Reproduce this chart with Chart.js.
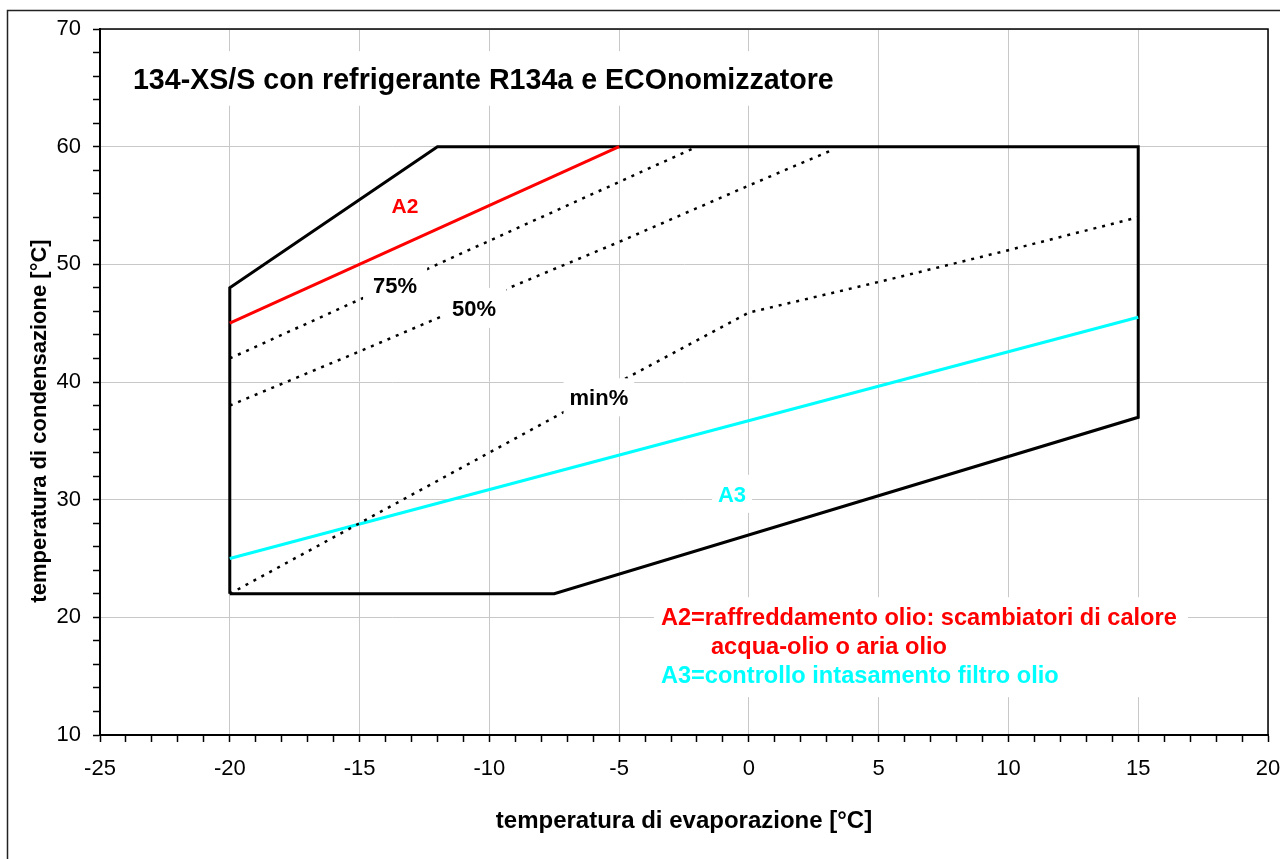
<!DOCTYPE html>
<html>
<head>
<meta charset="utf-8">
<title>134-XS/S con refrigerante R134a e ECOnomizzatore</title>
<script src="https://cdn.jsdelivr.net/npm/chart.js@4"></script>
<style>
  html, body { margin: 0; padding: 0; background: #fff; }
  #wrap { width: 1280px; height: 859px; position: relative; }
</style>
</head>
<body>
<div id="wrap"><canvas id="chart" width="1280" height="859"></canvas></div>
<script>
// operating envelope: evaporation temp (x) vs condensation temp (y), in °C
const envelopeX = [-20, -20, -12, 15, 15, -7.5, -20];
const envelopeY = [22, 48, 60, 60, 37, 22, 22];

// A2 = oil cooling limit, A3 = oil filter limit
const a2X = [-20, -5];
const a2Y = [45, 60];
const a3X = [-20, 15];
const a3Y = [25, 45.5];

// part load lines (dotted)
const load75X = [-20, -15, -10, -5, -2.2];
const load75Y = [42, 47, 52, 57, 59.8];
const load50X = [-20, -15, -10, -5, 0, 3.3];
const load50Y = [38, 42.6, 47.3, 51.9, 56.7, 59.8];
const loadMinX = [-20, -15, -10, -5, 0, 5, 10, 15];
const loadMinY = [22, 28, 34, 40, 45.9, 48.5, 51.2, 54];

const xTicks = [-25, -20, -15, -10, -5, 0, 5, 10, 15, 20];
const yTicks = [10, 20, 30, 40, 50, 60, 70];

const chartTitle = '134-XS/S con refrigerante R134a e ECOnomizzatore';
const xTitle = 'temperatura di evaporazione [°C]';
const yTitle = 'temperatura di condensazione [°C]';
const noteLines = [
  'A2=raffreddamento olio: scambiatori di calore',
  'acqua-olio o aria olio',
  'A3=controllo intasamento filtro olio'
];

const FONT = '"Liberation Sans", Arial, sans-serif';

const pts = (xs, ys) => xs.map((x, i) => ({ x: x, y: ys[i] }));

function line(data, color, width, dash) {
  return {
    data: data,
    showLine: true,
    borderColor: color,
    borderWidth: width,
    borderDash: dash || [],
    pointRadius: 0,
    fill: false,
    tension: 0
  };
}

// text with a white box behind it, anchored at the cap-height centre
function boxedText(ctx, text, x, y, size, color, padX, padY, align) {
  ctx.save();
  ctx.font = 'bold ' + size + 'px ' + FONT;
  const w = ctx.measureText(text).width;
  const left = align === 'left' ? x : x - w / 2;
  ctx.fillStyle = '#fff';
  ctx.fillRect(left - padX, y - size / 2 - padY, w + padX * 2, size + padY * 2);
  ctx.fillStyle = color;
  ctx.textAlign = 'left';
  ctx.textBaseline = 'alphabetic';
  ctx.fillText(text, left, y + size * 0.358);
  ctx.restore();
}

const overlay = {
  id: 'overlay',
  beforeDraw(chart) {
    const ctx = chart.ctx;
    ctx.save();
    ctx.fillStyle = '#fff';
    ctx.fillRect(0, 0, chart.width, chart.height);
    ctx.restore();
  },
  afterDatasetsDraw(chart) {
    const ctx = chart.ctx;
    const xs = chart.scales.x, ys = chart.scales.y;
    const a = chart.chartArea;
    const px = v => xs.getPixelForValue(v);
    const py = v => ys.getPixelForValue(v);

    // top and right frame of the plot
    ctx.save();
    ctx.strokeStyle = '#000';
    ctx.lineWidth = 1.5;
    ctx.beginPath();
    ctx.moveTo(a.left, a.top);
    ctx.lineTo(a.right, a.top);
    ctx.lineTo(a.right, a.bottom);
    ctx.stroke();
    ctx.restore();

    boxedText(ctx, chartTitle, px(-23.73), py(65.8), 28.6, '#000', 10, 13, 'left');

    boxedText(ctx, 'A2', px(-13.25), py(55.0), 21, '#f00', 8, 9);
    boxedText(ctx, '75%', px(-13.63), py(48.2), 22, '#000', 10, 9);
    boxedText(ctx, '50%', px(-10.59), py(46.3), 22, '#000', 10, 9);
    boxedText(ctx, 'min%', px(-5.78), py(38.7), 22, '#000', 6, 8);
    boxedText(ctx, 'A3', px(-0.65), py(30.5), 22, '#0ff', 6, 8);

    // notes block
    ctx.save();
    ctx.fillStyle = '#fff';
    ctx.fillRect(px(-3.39) - 7, py(20.1) - 19, 534, 100);
    ctx.restore();
    boxedText(ctx, noteLines[0], px(-3.39), py(20.1), 23.6, '#f00', 0, 0, 'left');
    boxedText(ctx, noteLines[1], px(-1.46), py(17.6), 23.6, '#f00', 0, 0, 'left');
    boxedText(ctx, noteLines[2], px(-3.39), py(15.1), 23.6, '#0ff', 0, 0, 'left');
  },
  afterDraw(chart) {
    const ctx = chart.ctx;
    const a = chart.chartArea;
    ctx.save();
    ctx.fillStyle = '#000';
    ctx.textBaseline = 'alphabetic';
    ctx.textAlign = 'center';
    ctx.font = 'bold 24px ' + FONT;
    ctx.fillText(xTitle, (a.left + a.right) / 2, a.bottom + 84 + 24 * 0.358);
    ctx.translate(46, 421);
    ctx.rotate(-Math.PI / 2);
    ctx.font = 'bold 22px ' + FONT;
    ctx.fillText(yTitle, 0, 0);
    ctx.restore();

    // outer frame of the picture
    ctx.save();
    ctx.strokeStyle = '#222';
    ctx.lineWidth = 1.5;
    ctx.beginPath();
    ctx.moveTo(7.5, chart.height);
    ctx.lineTo(7.5, 10.5);
    ctx.lineTo(chart.width, 10.5);
    ctx.stroke();
    ctx.restore();
  }
};

new Chart(document.getElementById('chart'), {
  type: 'scatter',
  data: {
    datasets: [
      line(pts(load75X, load75Y), '#000', 2.5, [3, 6]),
      line(pts(load50X, load50Y), '#000', 2.5, [3, 6]),
      line(pts(loadMinX, loadMinY), '#000', 2.5, [3, 6]),
      line(pts(a3X, a3Y), '#00ffff', 3),
      line(pts(a2X, a2Y), '#ff0000', 3),
      line(pts(envelopeX, envelopeY), '#000', 3)
    ]
  },
  options: {
    responsive: false,
    animation: false,
    layout: { padding: { left: 0, top: 29, right: 12, bottom: 0 } },
    plugins: {
      legend: { display: false },
      tooltip: { enabled: false }
    },
    scales: {
      x: {
        type: 'linear',
        min: -25,
        max: 20,
        afterFit: s => { s.height = 124; s.paddingLeft = 0; s.paddingRight = 0; },
        border: { display: true, color: '#000', width: 2 },
        grid: {
          color: c => (c.tick && c.tick.value % 5 === 0) ? '#c8c8c8' : 'rgba(0,0,0,0)',
          lineWidth: 1,
          tickLength: 7,
          tickColor: '#000',
          tickWidth: 1.5
        },
        ticks: {
          stepSize: 1,
          autoSkip: false,
          maxRotation: 0,
          padding: 14,
          color: '#000',
          font: { family: FONT, size: 22 },
          callback: v => xTicks.includes(v) ? String(v) : ''
        }
      },
      y: {
        type: 'linear',
        min: 10,
        max: 70,
        afterFit: s => { s.width = 100; s.paddingTop = 0; s.paddingBottom = 0; },
        border: { display: true, color: '#000', width: 2 },
        grid: {
          color: c => (c.tick && c.tick.value % 10 === 0) ? '#c8c8c8' : 'rgba(0,0,0,0)',
          lineWidth: 1,
          tickLength: 7,
          tickColor: '#000',
          tickWidth: 1.5
        },
        ticks: {
          stepSize: 2,
          autoSkip: false,
          padding: 12,
          color: '#000',
          font: { family: FONT, size: 22 },
          callback: v => yTicks.includes(v) ? String(v) : ''
        }
      }
    }
  },
  plugins: [overlay]
});
</script>
</body>
</html>
